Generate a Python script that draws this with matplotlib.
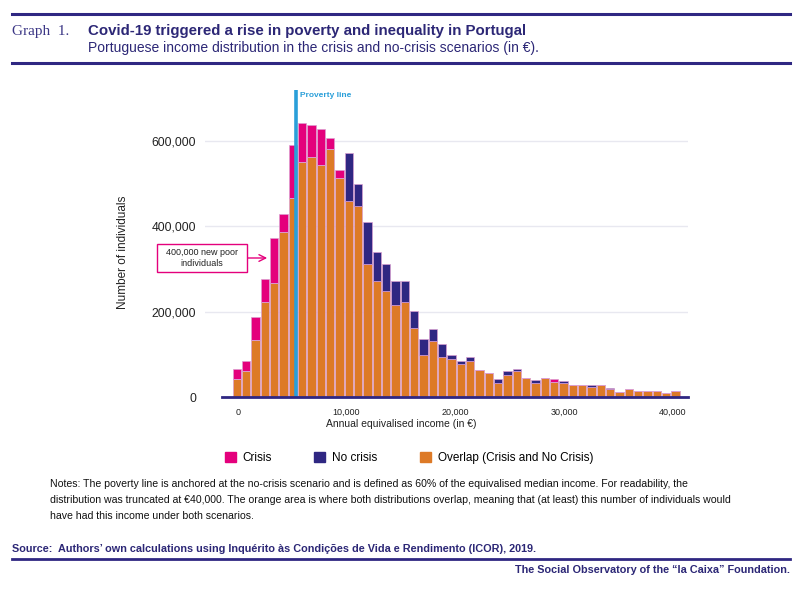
import numpy as np
import matplotlib.pyplot as plt
from matplotlib.patches import Patch, Rectangle
from matplotlib.ticker import FuncFormatter

# histogram counts (individuals) per income bin
crisis = [66, 84, 187, 277, 373, 429, 592, 642, 639, 629,
          607, 532, 459, 448, 312, 271, 248, 215, 223, 162,
          99, 131, 93, 89, 77, 85, 63, 56, 33, 51,
          61, 44, 32, 44, 42, 32, 27, 28, 23, 28,
          18, 11, 18, 13, 15, 13, 9, 15]
no_crisis = [43, 62, 134, 223, 267, 386, 467, 552, 562, 545,
             582, 513, 572, 499, 411, 339, 311, 273, 273, 202,
             135, 159, 125, 99, 85, 94, 63, 56, 43, 61,
             65, 44, 40, 44, 36, 38, 27, 28, 27, 28,
             20, 11, 18, 13, 15, 13, 9, 15]
bin_start = -496
bin_width = 858
poverty_line = 5400
x_ticks = [0, 10000, 20000, 30000, 40000]
y_ticks = [0, 200000, 400000, 600000]

crisis = np.array(crisis) * 1000
no_crisis = np.array(no_crisis) * 1000
overlap = np.minimum(crisis, no_crisis)
centers = bin_start + bin_width * (np.arange(len(crisis)) + 0.5)

PINK = '#E4007C'
NAVY = '#2F2782'
ORANGE = '#DD7A27'
BLUE = '#2A9FD9'
TXT = '#2C2776'

plt.rcParams['font.family'] = ['Liberation Sans', 'DejaVu Sans']

fig = plt.figure(figsize=(8, 5.91), dpi=100)
W, H = 800, 591


def fx(px):
    return px / W


def fy(py):
    return 1 - py / H


ax = fig.add_axes([fx(205), fy(397), fx(688) - fx(205), fy(90) - fy(397)])

edge = (0.86, 0.62, 0.82, 0.7)
bw = bin_width * 0.9
ax.bar(centers, overlap, width=bw, color=ORANGE, edgecolor=edge, linewidth=0.7, zorder=2)
ax.bar(centers, np.clip(crisis - overlap, 0, None), bottom=overlap, width=bw,
       color=PINK, edgecolor=edge, linewidth=0.7, zorder=2)
ax.bar(centers, np.clip(no_crisis - overlap, 0, None), bottom=overlap, width=bw,
       color=NAVY, edgecolor=edge, linewidth=0.7, zorder=2)

ax.axvline(poverty_line, color=BLUE, lw=2.6, zorder=3)
ax.text(poverty_line + 300, 706000, 'Proverty line', color=BLUE, fontsize=6,
        fontweight='bold', va='center', ha='left')

ax.set_xlim(-3000, 41400)
ax.set_ylim(0, 720000)
ax.plot([-1450, 41400], [0, 0], color=NAVY, lw=2, clip_on=False, zorder=4)

for v in y_ticks[1:]:
    ax.axhline(v, color='#E8E8F0', lw=1, zorder=0)

for s in ax.spines.values():
    s.set_visible(False)
ax.set_xticks(x_ticks)
ax.set_yticks(y_ticks)
fmt = FuncFormatter(lambda v, p: f'{int(v):,}')
ax.xaxis.set_major_formatter(fmt)
ax.yaxis.set_major_formatter(fmt)
ax.tick_params(axis='x', length=0, labelsize=6.5, pad=8, labelcolor='#222222')
ax.tick_params(axis='y', length=0, labelsize=8.7, pad=6.5, labelcolor='#222222')

fig.text(fx(401), fy(424), 'Annual equivalised income (in €)', ha='center', va='center',
         fontsize=7.5, color='#222222')
fig.text(fx(123), fy(252), 'Number of individuals', ha='center', va='center',
         rotation=90, fontsize=8.5, color='#222222')

# annotation box
fig.patches.append(Rectangle((fx(157), fy(272)), fx(90), 28 / H, transform=fig.transFigure,
                             fill=True, fc='white', ec=PINK, lw=1))
fig.text(fx(202), fy(258), '400,000 new poor\nindividuals', ha='center', va='center',
         fontsize=6.5, color='#222222', linespacing=1.3)
ax.annotate('', xy=(2970, 326000), xytext=(-3900, 326000),
            arrowprops=dict(arrowstyle='->', color=PINK, lw=1, mutation_scale=12),
            annotation_clip=False)

# legend
handles = [Patch(color=PINK, label='Crisis'), Patch(color=NAVY, label='No crisis'),
           Patch(color=ORANGE, label='Overlap (Crisis and No Crisis)')]
fig.legend(handles=handles, loc='center', bbox_to_anchor=(fx(409), fy(458)), ncol=3,
           frameon=False, fontsize=8.5, handlelength=0.9, handleheight=0.9,
           handletextpad=0.6, columnspacing=3.6)

# header
fig.add_artist(plt.Line2D([fx(12), fx(790)], [fy(14), fy(14)], color=NAVY, lw=2.2))
fig.add_artist(plt.Line2D([fx(12), fx(790)], [fy(63), fy(63)], color=NAVY, lw=2.2))
fig.text(fx(12), fy(31), 'Graph  1.', family='Liberation Serif', fontsize=11,
         color='#3B3685', va='center')
fig.text(fx(88), fy(31), 'Covid-19 triggered a rise in poverty and inequality in Portugal',
         fontsize=10.8, fontweight='bold', color=TXT, va='center')
fig.text(fx(88), fy(48), 'Portuguese income distribution in the crisis and no-crisis scenarios (in €).',
         fontsize=10, color=TXT, va='center')

notes = ('Notes: The poverty line is anchored at the no-crisis scenario and is defined as 60% of the '
         'equivalised median income. For readability, the\n'
         'distribution was truncated at €40,000. The orange area is where both distributions overlap, '
         'meaning that (at least) this number of individuals would\n'
         'have had this income under both scenarios.')
fig.text(fx(50), fy(479), notes, fontsize=7.6, color='#111111', va='top', linespacing=1.75)

fig.text(fx(12), fy(549), 'Source:  Authors\u2019 own calculations using Inquérito às Condições de Vida '
         'e Rendimento (ICOR), 2019.', fontsize=7.8, fontweight='bold', color=TXT, va='center')
fig.add_artist(plt.Line2D([fx(12), fx(790)], [fy(559), fy(559)], color=NAVY, lw=2))
fig.text(fx(790), fy(570), 'The Social Observatory of the \u201cla Caixa\u201d Foundation.',
         fontsize=7.8, fontweight='bold', color=TXT, va='center', ha='right')

fig.savefig('out.png', dpi=100)
